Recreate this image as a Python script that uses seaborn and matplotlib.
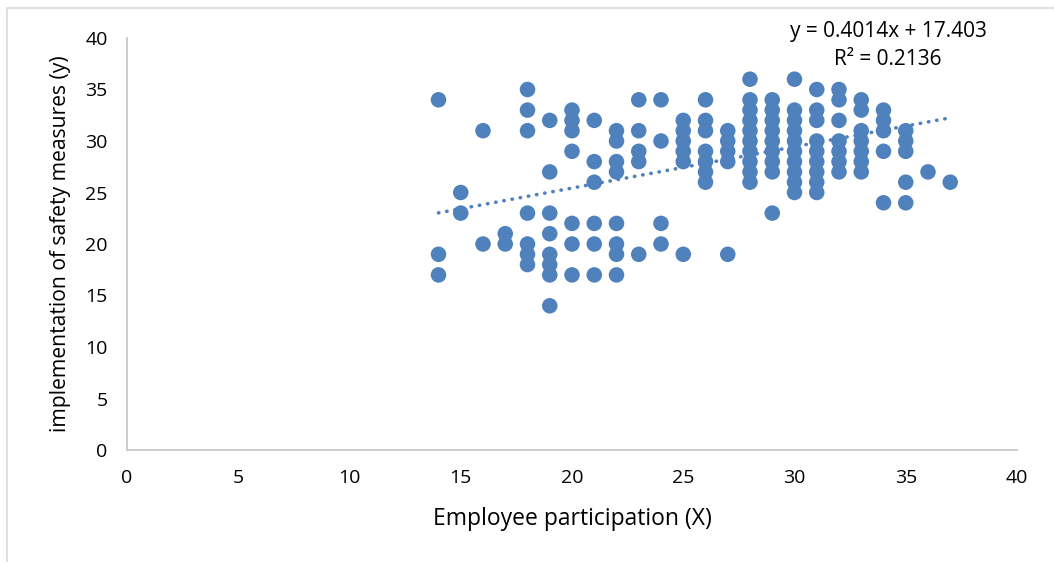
import numpy as np
import pandas as pd
import seaborn as sns
import matplotlib.pyplot as plt
from matplotlib.patches import Rectangle

# Employee participation (x) and the y values seen at each x
x_levels = [14, 15, 16, 17, 18, 19, 20, 21, 22, 23, 24, 25,
            26, 27, 28, 29, 30, 31, 32, 33, 34, 35, 36, 37]
y_at_x = [
    [34, 19, 17],
    [25, 23],
    [31, 20],
    [21, 20],
    [35, 33, 31, 23, 20, 19, 18],
    [32, 27, 23, 21, 19, 18, 17, 14],
    [33, 32, 31, 29, 22, 20, 17],
    [32, 28, 26, 22, 20, 17],
    [31, 30, 28, 27, 22, 20, 19, 17],
    [34, 31, 29, 28, 19],
    [34, 30, 22, 20],
    [32, 31, 30, 29, 28, 19],
    [34, 32, 31, 29, 28, 27, 26],
    [31, 30, 29, 28, 19],
    [36, 34, 33, 32, 31, 30, 29, 28, 27, 26],
    [34, 33, 32, 31, 30, 29, 28, 27, 23],
    [36, 33, 32, 31, 30, 29, 28, 27, 26, 25],
    [35, 33, 32, 30, 29, 28, 27, 26, 25],
    [35, 34, 32, 30, 29, 28, 27],
    [34, 33, 31, 30, 29, 28, 27],
    [33, 32, 31, 29, 24],
    [31, 30, 29, 26, 24],
    [27],
    [26],
]

# trendline as reported on the chart
slope = 0.4014
intercept = 17.403
eq_label = "y = 0.4014x + 17.403"
r2_label = "R² = 0.2136"

rows = [(xv, yv) for xv, ys in zip(x_levels, y_at_x) for yv in ys]
df = pd.DataFrame(rows, columns=["x", "y"])

sns.set_style("white")
plt.rcParams['font.family'] = ['Open Sans', 'DejaVu Sans']
plt.rcParams['text.color'] = 'black'
plt.rcParams['axes.labelcolor'] = 'black'
plt.rcParams['xtick.color'] = 'black'
plt.rcParams['ytick.color'] = 'black'

blue = "#4F81BD"
fig = plt.figure(figsize=(10.54, 5.62), dpi=100)
ax = fig.add_axes([127 / 1054, 1 - 450 / 562, 890 / 1054, 412 / 562])

# light frame around the chart area
fig.patches.append(Rectangle((7 / 1054, -0.1), 1.2, 1 - 8 / 562 + 0.1,
                             transform=fig.transFigure, fill=False,
                             edgecolor="#D9D9D9", linewidth=1.2))

sns.scatterplot(data=df, x="x", y="y", ax=ax, s=125, color=blue,
                edgecolor="none", legend=False, zorder=3)

xs = np.array([df["x"].min(), df["x"].max()])
ax.plot(xs, slope * xs + intercept, linestyle=(0, (0.1, 2.2)),
        color=blue, linewidth=2.6, dash_capstyle="round", zorder=4)

ax.set_xlim(0, 40)
ax.set_ylim(0, 40)
ax.set_xticks(range(0, 41, 5))
ax.set_yticks(range(0, 41, 5))
ax.tick_params(axis="x", length=0, pad=14, labelsize=14)
ax.tick_params(axis="y", length=0, pad=14, labelsize=14)

for side in ["top", "right"]:
    ax.spines[side].set_visible(False)
for side in ["left", "bottom"]:
    ax.spines[side].set_color("#C8C8C8")
    ax.spines[side].set_linewidth(1.3)

ax.set_xlabel("Employee participation (X)", fontsize=16.5, labelpad=14)
ax.set_ylabel("implementation of safety measures (y)", fontsize=15.2, labelpad=10)

ax.text(0.855, 1.015, eq_label, transform=ax.transAxes, ha="center",
        va="center", fontsize=15)
ax.text(0.855, 0.947, r2_label, transform=ax.transAxes, ha="center",
        va="center", fontsize=15)

fig.savefig("out.png", dpi=100)
